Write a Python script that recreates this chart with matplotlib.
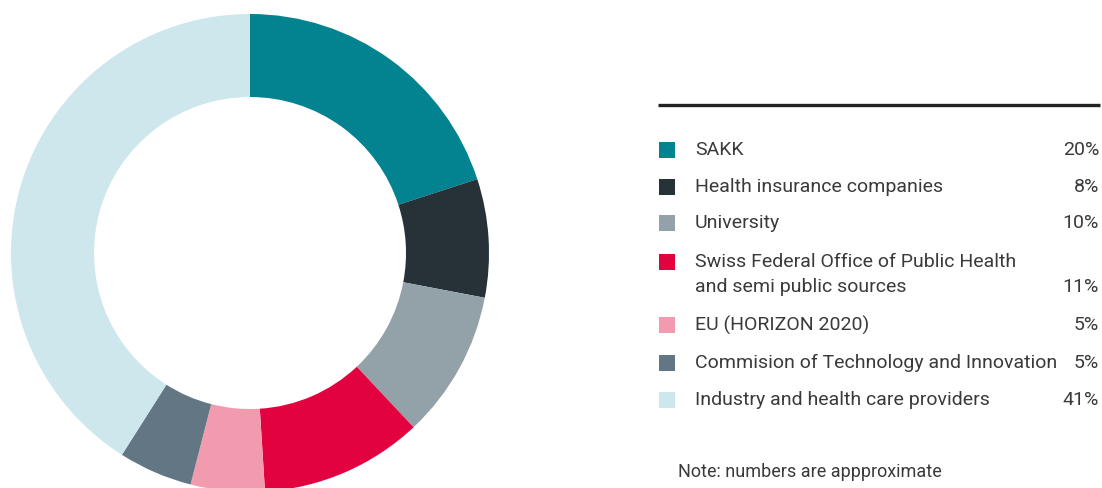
import matplotlib
matplotlib.use("Agg")
import matplotlib.pyplot as plt
from matplotlib.patches import Rectangle


labels = [
    "SAKK",
    "Health insurance companies",
    "University",
    "Swiss Federal Office of Public Health\nand semi public sources",
    "EU (HORIZON 2020)",
    "Commision of Technology and Innovation",
    "Industry and health care providers",
]
shares = [20, 8, 10, 11, 5, 5, 41]
colors = ["#02838F", "#263238", "#93A1A8", "#E30240", "#F29BAF", "#627783", "#CDE7EC"]
note = "Note: numbers are appproximate"

W, H = 1102, 488
plt.rcParams["font.family"] = ["Roboto", "DejaVu Sans"]

fig = plt.figure(figsize=(W / 100, H / 100), dpi=100)

# donut, center (250, 253) px from top, outer radius 239, inner 156
cx, cy, r = 250, 253, 239
ax = fig.add_axes([(cx - r) / W, (H - cy - r) / H, 2 * r / W, 2 * r / H])
ax.pie(shares, colors=colors, startangle=90, counterclock=False, radius=1,
       wedgeprops=dict(width=(239 - 156) / 239, linewidth=0))
ax.set_xlim(-1, 1)
ax.set_ylim(-1, 1)
ax.set_aspect("equal")
ax.axis("off")

# overlay in pixel coords for the legend table
ov = fig.add_axes([0, 0, 1, 1])
ov.set_xlim(0, W)
ov.set_ylim(H, 0)
ov.axis("off")
ov.set_zorder(-1)

ov.plot([658, 1100], [105, 105], color="#222222", lw=2.4, solid_capstyle="butt")

row_y = [150, 187, 223, 262, 325, 363, 400]
txt_color = "#3a3a3a"
fs = 14
line_gap = 25
for y, lab, val, col in zip(row_y, labels, shares, colors):
    ov.add_patch(Rectangle((659, y - 8), 16, 16, facecolor=col, edgecolor="none"))
    lines = lab.split("\n")
    for k, part in enumerate(lines):
        ov.text(695, y + k * line_gap, part, fontsize=fs, color=txt_color,
                va="center", ha="left")
    py = y + (len(lines) - 1) * line_gap
    ov.text(1099, py, f"{val}%", fontsize=fs, color=txt_color, va="center", ha="right")

ov.text(678, 472, note, fontsize=13, color=txt_color, va="center", ha="left")

fig.savefig("out.png", dpi=100)
